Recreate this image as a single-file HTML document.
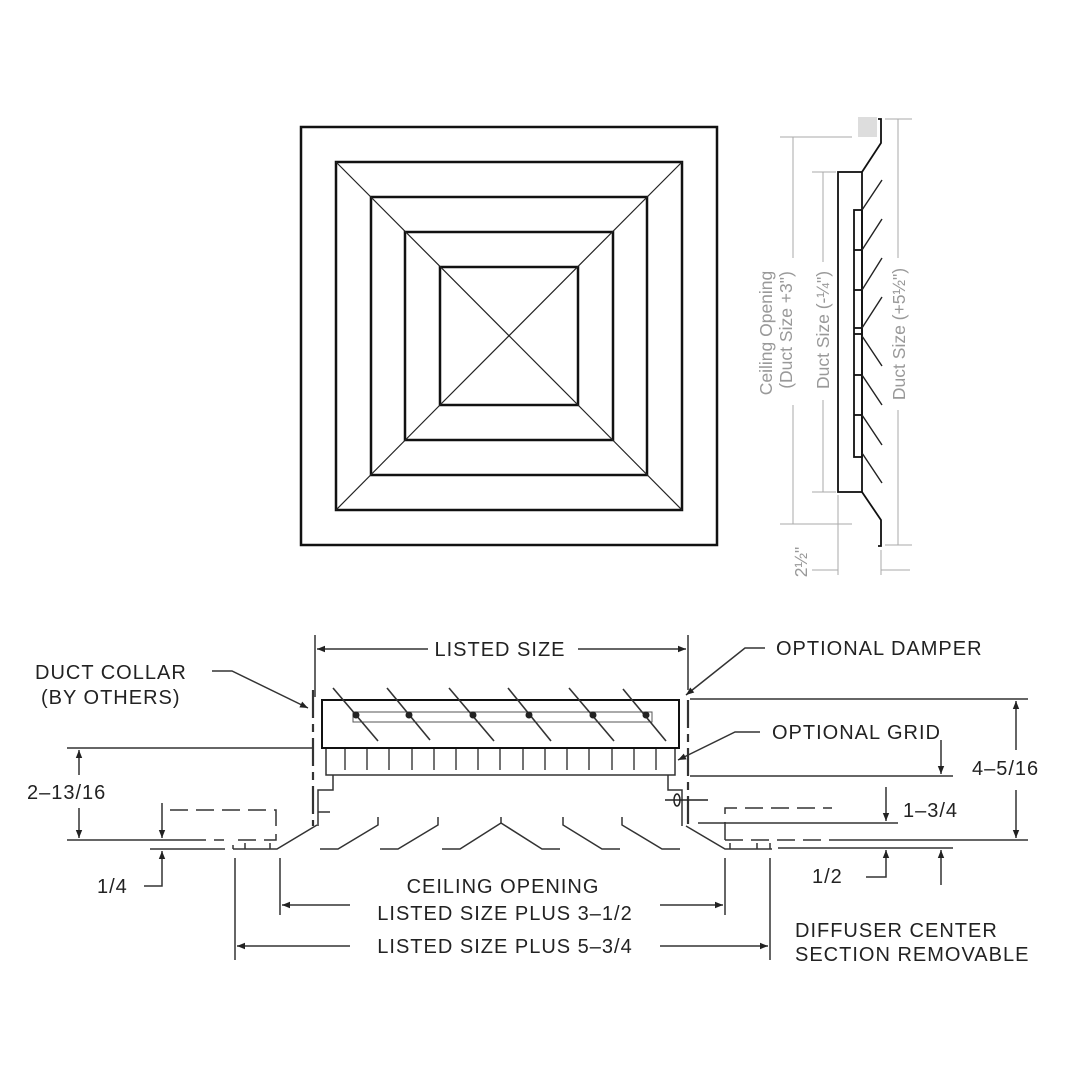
<!DOCTYPE html>
<html><head><style>
html,body{margin:0;padding:0;background:#fff;}
svg{display:block;}
.t{font-family:"Liberation Sans",sans-serif;font-size:20px;letter-spacing:1px;fill:#222;}
.g{font-family:"Liberation Sans",sans-serif;font-size:17.5px;fill:#999;}
</style></head><body>
<svg width="1080" height="1080" viewBox="0 0 1080 1080" xmlns="http://www.w3.org/2000/svg">
<defs>
<marker id="a" viewBox="0 0 10 10" refX="10" refY="5" markerWidth="12" markerHeight="8" orient="auto" markerUnits="userSpaceOnUse"><path d="M0,1 L10,5 L0,9 z" fill="#222"/></marker>
</defs>
<!-- plan view -->
<g fill="none" stroke="#111" stroke-width="2.5">
<rect x="301" y="127" width="416" height="418"/>
<rect x="336" y="162" width="346" height="348"/>
<rect x="371" y="197" width="276" height="278"/>
<rect x="405" y="232" width="208" height="208"/>
<rect x="440" y="267" width="138" height="138"/>
</g>
<g stroke="#222" stroke-width="1.2">
<line x1="336" y1="162" x2="578" y2="405"/>
<line x1="682" y1="162" x2="440" y2="405"/>
<line x1="336" y1="510" x2="440" y2="405"/>
<line x1="682" y1="510" x2="578" y2="405"/>
</g>
<!-- side view gray dims -->
<rect x="858" y="117" width="19" height="20" fill="#ddd"/>
<g stroke="#aaa" stroke-width="1" fill="none">
<line x1="780" y1="137" x2="852" y2="137"/><line x1="780" y1="524" x2="852" y2="524"/>
<line x1="793" y1="137" x2="793" y2="258"/><line x1="793" y1="405" x2="793" y2="524"/>
<line x1="812" y1="172" x2="836" y2="172"/><line x1="812" y1="492" x2="836" y2="492"/>
<line x1="823" y1="172" x2="823" y2="262"/><line x1="823" y1="400" x2="823" y2="492"/>
<line x1="885" y1="119" x2="912" y2="119"/><line x1="885" y1="545" x2="912" y2="545"/>
<line x1="898" y1="119" x2="898" y2="258"/><line x1="898" y1="410" x2="898" y2="545"/>
<line x1="838" y1="495" x2="838" y2="575"/><line x1="881" y1="550" x2="881" y2="575"/>
<line x1="812" y1="570" x2="838" y2="570"/><line x1="881" y1="570" x2="910" y2="570"/>
</g>
<text class="g" transform="translate(772,333) rotate(-90)" text-anchor="middle">Ceiling Opening</text>
<text class="g" transform="translate(792,330) rotate(-90)" text-anchor="middle">(Duct Size +3")</text>
<text class="g" transform="translate(829,330) rotate(-90)" text-anchor="middle">Duct Size (-¼")</text>
<text class="g" transform="translate(905,334) rotate(-90)" text-anchor="middle">Duct Size (+5½")</text>
<text class="g" transform="translate(807,562) rotate(-90)" text-anchor="middle">2½"</text>
<!-- side view profile -->
<g stroke="#111" stroke-width="1.8" fill="none">
<polyline points="878,119 881,119 881,143 862,172"/>
<rect x="838" y="172" width="24" height="320"/>
<rect x="854" y="210" width="8" height="247"/>
<polyline points="862,492 881,520 881,546 878,546"/>
<line x1="854" y1="250" x2="862" y2="250"/><line x1="854" y1="290" x2="862" y2="290"/><line x1="854" y1="328" x2="862" y2="328"/><line x1="854" y1="334" x2="862" y2="334"/><line x1="854" y1="375" x2="862" y2="375"/><line x1="854" y1="415" x2="862" y2="415"/>
</g>
<g stroke="#222" stroke-width="1.4">
<line x1="862" y1="210" x2="882" y2="180"/><line x1="862" y1="250" x2="882" y2="219"/><line x1="862" y1="290" x2="882" y2="258"/><line x1="862" y1="328" x2="882" y2="297"/>
<line x1="862" y1="336" x2="882" y2="366"/><line x1="862" y1="375" x2="882" y2="405"/><line x1="862" y1="415" x2="882" y2="445"/><line x1="862" y1="453" x2="882" y2="483"/>
</g>
<!-- section -->
<g stroke="#333" stroke-width="1.5" fill="none">
<line x1="315" y1="635" x2="315" y2="697"/><line x1="688" y1="635" x2="688" y2="690"/>
<line x1="428" y1="649" x2="317" y2="649" marker-end="url(#a)"/><line x1="578" y1="649" x2="686" y2="649" marker-end="url(#a)"/>
<line x1="313" y1="690" x2="313" y2="826" stroke-dasharray="28,6,8,6" stroke-width="2.2"/>
<line x1="688" y1="700" x2="688" y2="826" stroke-dasharray="28,6,8,6" stroke-width="2.2"/>
<polyline points="326,748 326,775 675,775 675,748"/>
<polyline points="333,775 333,790 318,790 318,826"/><line x1="318" y1="812" x2="330" y2="812"/>
<polyline points="668,775 668,790 682,790 682,826"/>
<polyline points="317,825 277,849 233,849"/><line x1="233" y1="849" x2="233" y2="845"/><line x1="245" y1="849" x2="245" y2="843"/><line x1="270" y1="849" x2="270" y2="843"/>
<polyline points="686,826 725,849 772,849"/><line x1="730" y1="849" x2="730" y2="843"/><line x1="757" y1="849" x2="757" y2="843"/><line x1="770" y1="849" x2="770" y2="843"/>
<polyline points="378,817 378,825 338,849 320,849"/>
<polyline points="438,817 438,825 398,849 380,849"/>
<polyline points="442,849 460,849 501,823 542,849 560,849"/><line x1="501" y1="817" x2="501" y2="823"/>
<polyline points="563,817 563,825 602,849 620,849"/>
<polyline points="622,817 622,825 662,849 680,849"/>
<line x1="67" y1="748" x2="312" y2="748"/>
<line x1="67" y1="840" x2="196" y2="840"/>
<polyline points="170,810 276,810 276,840 233,840" stroke-dasharray="18,8"/>
<line x1="196" y1="840" x2="230" y2="840" stroke-dasharray="10,8"/>
<line x1="150" y1="849" x2="225" y2="849"/>
<line x1="79" y1="775" x2="79" y2="750" marker-end="url(#a)"/><line x1="79" y1="808" x2="79" y2="838" marker-end="url(#a)"/>
<line x1="162" y1="803" x2="162" y2="838" marker-end="url(#a)"/>
<polyline points="144,886 162,886 162,851" marker-end="url(#a)"/>
<line x1="690" y1="699" x2="1028" y2="699"/>
<line x1="690" y1="776" x2="953" y2="776"/>
<line x1="1016" y1="750" x2="1016" y2="701" marker-end="url(#a)"/><line x1="1016" y1="790" x2="1016" y2="838" marker-end="url(#a)"/>
<line x1="941" y1="740" x2="941" y2="774" marker-end="url(#a)"/>
<polyline points="725,840 725,808 832,808" stroke-dasharray="18,8"/>
<line x1="698" y1="823" x2="898" y2="823"/>
<line x1="886" y1="787" x2="886" y2="821" marker-end="url(#a)"/>
<line x1="725" y1="840" x2="840" y2="840" stroke-dasharray="18,8"/><line x1="840" y1="840" x2="1028" y2="840"/>
<line x1="778" y1="848" x2="953" y2="848"/>
<polyline points="866,877 886,877 886,850" marker-end="url(#a)"/>
<line x1="941" y1="885" x2="941" y2="850" marker-end="url(#a)"/>
<line x1="280" y1="858" x2="280" y2="915"/><line x1="725" y1="858" x2="725" y2="915"/>
<line x1="235" y1="858" x2="235" y2="960"/><line x1="770" y1="858" x2="770" y2="960"/>
<line x1="350" y1="905" x2="282" y2="905" marker-end="url(#a)"/><line x1="660" y1="905" x2="723" y2="905" marker-end="url(#a)"/>
<line x1="350" y1="946" x2="237" y2="946" marker-end="url(#a)"/><line x1="660" y1="946" x2="768" y2="946" marker-end="url(#a)"/>
<polyline points="212,671 232,671 308,708" marker-end="url(#a)"/>
<polyline points="765,648 745,648 686,695" marker-end="url(#a)"/>
<polyline points="760,732 735,732 678,760" marker-end="url(#a)"/>
</g>
<g stroke="#222" stroke-width="1.5" fill="none"><ellipse cx="677" cy="800" rx="3" ry="6"/><line x1="665" y1="800" x2="708" y2="800"/></g>
<rect x="322" y="700" width="357" height="48" fill="none" stroke="#111" stroke-width="2"/>
<rect x="353" y="712" width="299" height="10" fill="none" stroke="#555" stroke-width="1"/>
<g stroke="#333" stroke-width="1.6">
<line x1="333" y1="688" x2="378" y2="741"/><line x1="387" y1="688" x2="430" y2="740"/><line x1="449" y1="688" x2="494" y2="741"/><line x1="508" y1="688" x2="551" y2="741"/><line x1="569" y1="688" x2="614" y2="741"/><line x1="623" y1="689" x2="666" y2="741"/>
</g>
<g fill="#222"><circle cx="356" cy="715" r="3.5"/><circle cx="409" cy="715" r="3.5"/><circle cx="473" cy="715" r="3.5"/><circle cx="529" cy="715" r="3.5"/><circle cx="593" cy="715" r="3.5"/><circle cx="646" cy="715" r="3.5"/></g>
<g stroke="#444" stroke-width="1.5">
<line x1="345" y1="749" x2="345" y2="770"/><line x1="367" y1="749" x2="367" y2="770"/><line x1="389" y1="749" x2="389" y2="770"/><line x1="412" y1="749" x2="412" y2="770"/><line x1="434" y1="749" x2="434" y2="770"/><line x1="456" y1="749" x2="456" y2="770"/><line x1="478" y1="749" x2="478" y2="770"/><line x1="500" y1="749" x2="500" y2="770"/><line x1="523" y1="749" x2="523" y2="770"/><line x1="545" y1="749" x2="545" y2="770"/><line x1="567" y1="749" x2="567" y2="770"/><line x1="589" y1="749" x2="589" y2="770"/><line x1="612" y1="749" x2="612" y2="770"/><line x1="634" y1="749" x2="634" y2="770"/><line x1="656" y1="749" x2="656" y2="770"/>
</g>
<text class="t" x="500" y="656" text-anchor="middle">LISTED SIZE</text>
<text class="t" x="776" y="655">OPTIONAL DAMPER</text>
<text class="t" x="772" y="739">OPTIONAL GRID</text>
<text class="t" x="35" y="679">DUCT COLLAR</text>
<text class="t" x="41" y="704">(BY OTHERS)</text>
<text class="t" x="27" y="799">2–13/16</text>
<text class="t" x="97" y="893">1/4</text>
<text class="t" x="972" y="775">4–5/16</text>
<text class="t" x="903" y="817">1–3/4</text>
<text class="t" x="812" y="883">1/2</text>
<text class="t" x="503" y="893" text-anchor="middle">CEILING OPENING</text>
<text class="t" x="505" y="920" text-anchor="middle">LISTED SIZE PLUS 3–1/2</text>
<text class="t" x="505" y="953" text-anchor="middle">LISTED SIZE PLUS 5–3/4</text>
<text class="t" x="795" y="937">DIFFUSER CENTER</text>
<text class="t" x="795" y="961">SECTION REMOVABLE</text>
</svg>
</body></html>
